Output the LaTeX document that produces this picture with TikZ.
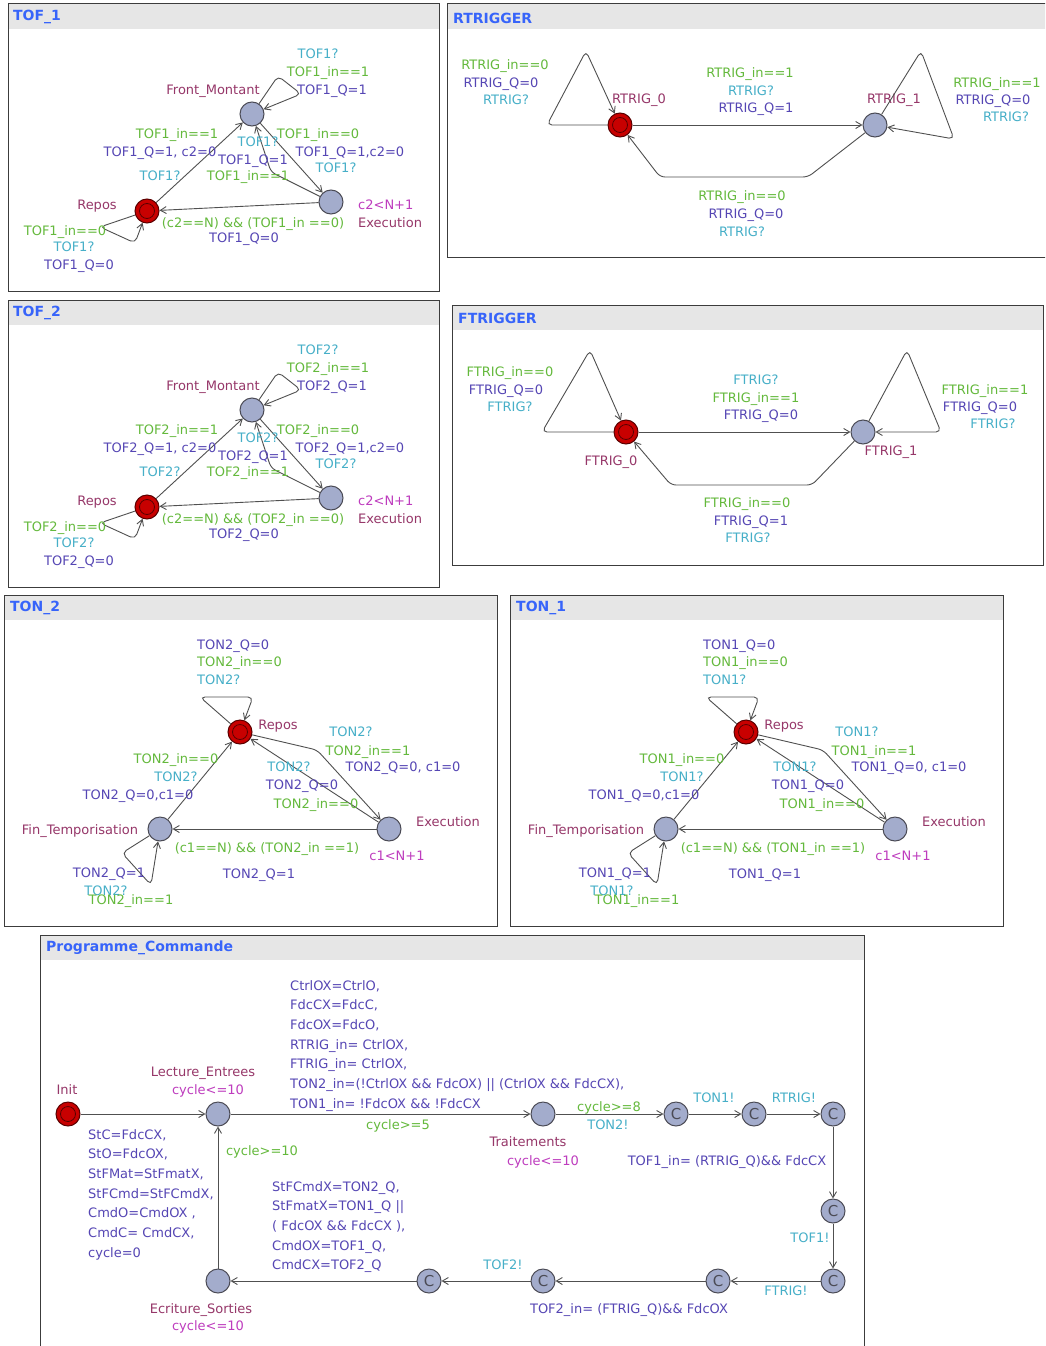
\documentclass[tikz,border=0pt]{standalone}
\usepackage{fontspec}
\setmainfont{DejaVu Sans}
\usepackage{tikz}
\usetikzlibrary{arrows.meta,positioning,calc}
\definecolor{locfill}{RGB}{163,172,204}
\definecolor{locline}{RGB}{75,75,85}
\definecolor{initfill}{RGB}{200,0,0}
\definecolor{initline}{RGB}{90,0,0}
\definecolor{namecol}{RGB}{150,55,105}
\definecolor{invcol}{RGB}{190,60,190}
\definecolor{grdcol}{RGB}{100,185,60}
\definecolor{syncol}{RGB}{70,175,200}
\definecolor{updcol}{RGB}{85,70,180}
\definecolor{ttlcol}{RGB}{55,100,250}
\definecolor{hdrcol}{RGB}{230,230,230}
\definecolor{edgecol}{RGB}{80,80,80}
\definecolor{boxcol}{RGB}{60,60,60}
\tikzset{
  loc/.style={circle, draw=locline, fill=locfill, line width=1pt, minimum size=24pt, inner sep=0pt},
  initloc/.style={loc, draw=initline, fill=initfill,
                  path picture={\draw[initline, line width=0.8pt] (path picture bounding box.center) circle (7.5pt);}},
  comloc/.style={loc, font=\fontsize{15}{15}\selectfont, text=locline},
  lbl/.style={inner sep=0pt, font=\fontsize{13}{17}\selectfont, text height=9pt, text depth=2pt},
  lname/.style={lbl, text=namecol},
  linv/.style={lbl, text=invcol},
  lgrd/.style={lbl, text=grdcol},
  lsyn/.style={lbl, text=syncol},
  lupd/.style={lbl, text=updcol},
  lblock/.style={inner sep=0pt, font=\fontsize{13}{19.7}\selectfont, text=updcol, align=left, anchor=north west},
  trans/.style={draw=edgecol, line width=0.9pt, -{Straight Barb[length=6pt,width=7pt]}, rounded corners=5pt},
  tplhdr/.style={fill=hdrcol},
  tplbox/.style={draw=boxcol, line width=1pt},
  tpltitle/.style={inner sep=0pt, anchor=west, text=ttlcol, font=\fontsize{14}{14}\selectfont\bfseries}
}
\begin{document}
\begin{tikzpicture}[x=1pt,y=-1pt]
\useasboundingbox (0,0) rectangle (1045,1346);
\clip (0,0) rectangle (1045,1346);
\fill[white] (0,0) rectangle (1045,1346);

\foreach \k/\dy in {1/0,2/296}{
\begin{scope}[shift={(0,\dy)}]
\fill[tplhdr] (8,4) rectangle (439,29);
\draw[tplbox] (8,4) rectangle (439,291);
\node[tpltitle] (tof\k) at (13,17) {TOF\_\k};
\node[initloc] (rp\k) at (147,211) {};
\node[loc] (fm\k) at (252,114) {};
\node[loc] (ex\k) at (331,202) {};
\node[lname] (nfm\k) at (213,91) {Front\_Montant};
\node[lname] (nrp\k) at (97,206) {Repos};
\node[linv, anchor=west] (iex\k) at (358,206) {c2<N+1};
\node[lname, anchor=west] (nex\k) at (358,224) {Execution};
\draw[trans] (fm\k) -- (278,76) -- (301,94) -- (fm\k);
\draw[trans] (rp\k) -- (fm\k);
\draw[trans] (fm\k) -- (ex\k);
\draw[trans] (ex\k) -- (271,172) -- (fm\k);
\draw[trans] (ex\k) -- (rp\k);
\draw[trans] (rp\k) -- (100,227) -- (135,243) -- (rp\k);
\node[lsyn] (fa1\k) at (318,55) {TOF\k?};
\node[lgrd] (fa2\k) at (328,73) {TOF\k\_in==1};
\node[lupd] (fa3\k) at (332,91) {TOF\k\_Q=1};
\node[lgrd] (fb1\k) at (177,135) {TOF\k\_in==1};
\node[lupd] (fb2\k) at (160,153) {TOF\k\_Q=1, c2=0};
\node[lsyn] (fb3\k) at (160,177) {TOF\k?};
\node[lgrd] (fc1\k) at (318,135) {TOF\k\_in==0};
\node[lupd] (fc2\k) at (350,153) {TOF\k\_Q=1,c2=0};
\node[lsyn] (fc3\k) at (336,169) {TOF\k?};
\node[lsyn] (fd1\k) at (258,143) {TOF\k?};
\node[lupd] (fd2\k) at (253,161) {TOF\k\_Q=1};
\node[lgrd] (fd3\k) at (248,177) {TOF\k\_in==1};
\node[lgrd] (fe1\k) at (253,224) {(c2==N) \&\& (TOF\k\_in ==0)};
\node[lupd] (fe2\k) at (244,239) {TOF\k\_Q=0};
\node[lgrd] (ff1\k) at (65,232) {TOF\k\_in==0};
\node[lsyn] (ff2\k) at (74,248) {TOF\k?};
\node[lupd] (ff3\k) at (79,266) {TOF\k\_Q=0};
\end{scope}}

\fill[tplhdr] (447,4) rectangle (1050,29);
\draw[tplbox] (447,4) rectangle (1050,257);
\node[tpltitle] (rtr) at (453,18) {RTRIGGER};
\node[initloc] (r0) at (620,125) {};
\node[loc] (r1) at (875,125) {};
\node[lname] (nr0) at (639,100) {RTRIG\_0};
\node[lname] (nr1) at (894,100) {RTRIG\_1};
\draw[trans] (r0) -- (547,125) -- (586,51) -- (r0);
\draw[trans] (r0) -- (r1);
\draw[trans] (r1) -- (921,51) -- (954,139) -- (r1);
\draw[trans] (r1) -- (808,177) -- (660,177) -- (r0);
\node[lgrd] (ra1) at (505,66) {RTRIG\_in==0};
\node[lupd] (ra2) at (501,84) {RTRIG\_Q=0};
\node[lsyn] (ra3) at (506,101) {RTRIG?};
\node[lgrd] (rb1) at (750,74) {RTRIG\_in==1};
\node[lsyn] (rb2) at (751,92) {RTRIG?};
\node[lupd] (rb3) at (756,109) {RTRIG\_Q=1};
\node[lgrd] (rc1) at (997,84) {RTRIG\_in==1};
\node[lupd] (rc2) at (993,101) {RTRIG\_Q=0};
\node[lsyn] (rc3) at (1006,118) {RTRIG?};
\node[lgrd] (rd1) at (742,197) {RTRIG\_in==0};
\node[lupd] (rd2) at (746,215) {RTRIG\_Q=0};
\node[lsyn] (rd3) at (742,233) {RTRIG?};

\fill[tplhdr] (452,305) rectangle (1043,330);
\draw[tplbox] (452,305) rectangle (1043,565);
\node[tpltitle] (ftr) at (458,318) {FTRIGGER};
\node[initloc] (f0) at (626,432) {};
\node[loc] (f1) at (863,432) {};
\node[lname] (nf0) at (611,462) {FTRIG\_0};
\node[lname] (nf1) at (891,452) {FTRIG\_1};
\draw[trans] (f0) -- (542,432) -- (590,350) -- (f0);
\draw[trans] (f0) -- (f1);
\draw[trans] (f1) -- (907,350) -- (941,432) -- (f1);
\draw[trans] (f1) -- (812,485) -- (671,485) -- (f0);
\node[lgrd] (ga1) at (510,373) {FTRIG\_in==0};
\node[lupd] (ga2) at (506,391) {FTRIG\_Q=0};
\node[lsyn] (ga3) at (510,408) {FTRIG?};
\node[lsyn] (gb1) at (756,381) {FTRIG?};
\node[lgrd] (gb2) at (756,399) {FTRIG\_in==1};
\node[lupd] (gb3) at (761,416) {FTRIG\_Q=0};
\node[lgrd] (gc1) at (985,391) {FTRIG\_in==1};
\node[lupd] (gc2) at (980,408) {FTRIG\_Q=0};
\node[lsyn] (gc3) at (993,425) {FTRIG?};
\node[lgrd] (gd1) at (747,504) {FTRIG\_in==0};
\node[lupd] (gd2) at (751,522) {FTRIG\_Q=1};
\node[lsyn] (gd3) at (748,539) {FTRIG?};

\foreach \k/\dx in {2/0,1/506}{
\begin{scope}[shift={(\dx,0)}]
\fill[tplhdr] (4,595) rectangle (497,620);
\draw[tplbox] (4,595) rectangle (497,926);
\node[tpltitle] (ton\k) at (10,608) {TON\_\k};
\node[initloc] (trp\k) at (240,732) {};
\node[loc] (tft\k) at (160,829) {};
\node[loc] (tex\k) at (389,829) {};
\node[lname] (ntrp\k) at (278,726) {Repos};
\node[lname] (ntft\k) at (80,831) {Fin\_Temporisation};
\node[lname] (ntex\k) at (448,823) {Execution};
\node[linv] (itex\k) at (397,857) {c1<N+1};
\draw[trans] (trp\k) -- (200,697) -- (253,697) -- (trp\k);
\draw[trans] (trp\k) -- (317,750) -- (tex\k);
\draw[trans] (tex\k) -- (trp\k);
\draw[trans] (tex\k) -- (tft\k);
\draw[trans] (tft\k) -- (trp\k);
\draw[trans] (tft\k) -- (122,853) -- (151,885) -- (tft\k);
\node[lupd, anchor=west] (na1\k) at (197,646) {TON\k\_Q=0};
\node[lgrd, anchor=west] (na2\k) at (197,663) {TON\k\_in==0};
\node[lsyn, anchor=west] (na3\k) at (197,681) {TON\k?};
\node[lsyn] (nb1\k) at (351,733) {TON\k?};
\node[lgrd] (nb2\k) at (368,752) {TON\k\_in==1};
\node[lupd] (nb3\k) at (403,768) {TON\k\_Q=0, c1=0};
\node[lsyn] (nc1\k) at (289,768) {TON\k?};
\node[lupd] (nc2\k) at (302,786) {TON\k\_Q=0};
\node[lgrd] (nc3\k) at (316,805) {TON\k\_in==0};
\node[lgrd] (nd1\k) at (267,849) {(c1==N) \&\& (TON\k\_in ==1)};
\node[lupd] (nd2\k) at (259,875) {TON\k\_Q=1};
\node[lgrd] (ne1\k) at (176,760) {TON\k\_in==0};
\node[lsyn] (ne2\k) at (176,778) {TON\k?};
\node[lupd] (ne3\k) at (138,796) {TON\k\_Q=0,c1=0};
\node[lupd] (nf1\k) at (109,874) {TON\k\_Q=1};
\node[lsyn] (nf2\k) at (106,892) {TON\k?};
\node[lgrd] (nf3\k) at (131,901) {TON\k\_in==1};
\end{scope}}

\fill[tplhdr] (40,935) rectangle (864,960);
\draw[tplbox] (40,935) rectangle (864,1360);
\node[tpltitle] (pcm) at (46,948) {Programme\_Commande};
\node[initloc] (init) at (68,1114) {};
\node[loc] (le) at (218,1114) {};
\node[loc] (tr) at (543,1114) {};
\node[comloc] (pc1) at (676,1114) {C};
\node[comloc] (pc2) at (754,1114) {C};
\node[comloc] (pc3) at (833,1114) {C};
\node[comloc] (pc4) at (833,1211) {C};
\node[comloc] (pc5) at (833,1281) {C};
\node[comloc] (pc6) at (718,1281) {C};
\node[comloc] (pc7) at (543,1281) {C};
\node[comloc] (pc8) at (429,1281) {C};
\node[loc] (es) at (218,1281) {};
\draw[trans] (init) -- (le);
\draw[trans] (le) -- (tr);
\draw[trans] (tr) -- (pc1);
\draw[trans] (pc1) -- (pc2);
\draw[trans] (pc2) -- (pc3);
\draw[trans] (pc3) -- (pc4);
\draw[trans] (pc4) -- (pc5);
\draw[trans] (pc5) -- (pc6);
\draw[trans] (pc6) -- (pc7);
\draw[trans] (pc7) -- (pc8);
\draw[trans] (pc8) -- (es);
\draw[trans] (es) -- (le);
\node[lname] (ninit) at (67,1091) {Init};
\node[lname] (nle) at (203,1073) {Lecture\_Entrees};
\node[linv] (ile) at (208,1091) {cycle<=10};
\node[lname] (ntr) at (528,1143) {Traitements};
\node[linv] (itr) at (543,1162) {cycle<=10};
\node[lname] (nes) at (201,1310) {Ecriture\_Sorties};
\node[linv] (ies) at (208,1327) {cycle<=10};
\node[lblock] (upa) at (88,1129) {StC=FdcCX,\\StO=FdcOX,\\StFMat=StFmatX,\\StFCmd=StFCmdX,\\CmdO=CmdOX ,\\CmdC= CmdCX,\\cycle=0};
\node[lblock] (upb) at (290,980) {CtrlOX=CtrlO,\\FdcCX=FdcC,\\FdcOX=FdcO,\\RTRIG\_in= CtrlOX,\\FTRIG\_in= CtrlOX,\\TON2\_in=(!CtrlOX \&\& FdcOX) || (CtrlOX \&\& FdcCX),\\TON1\_in= !FdcOX \&\& !FdcCX};
\node[lblock] (upc) at (272,1181) {StFCmdX=TON2\_Q,\\StFmatX=TON1\_Q ||\\( FdcOX \&\& FdcCX ),\\CmdOX=TOF1\_Q,\\CmdCX=TOF2\_Q};
\node[lgrd] (pg1) at (398,1126) {cycle>=5};
\node[lgrd] (pg2) at (609,1108) {cycle>=8};
\node[lsyn] (ps1) at (608,1126) {TON2!};
\node[lsyn] (ps2) at (714,1099) {TON1!};
\node[lsyn] (ps3) at (794,1099) {RTRIG!};
\node[lupd] (pu1) at (727,1162) {TOF1\_in= (RTRIG\_Q)\&\& FdcCX};
\node[lsyn] (ps4) at (810,1239) {TOF1!};
\node[lsyn] (ps5) at (786,1292) {FTRIG!};
\node[lupd] (pu2) at (629,1310) {TOF2\_in= (FTRIG\_Q)\&\& FdcOX};
\node[lsyn] (ps6) at (503,1266) {TOF2!};
\node[lgrd] (pg3) at (262,1152) {cycle>=10};
\end{tikzpicture}
\end{document}
